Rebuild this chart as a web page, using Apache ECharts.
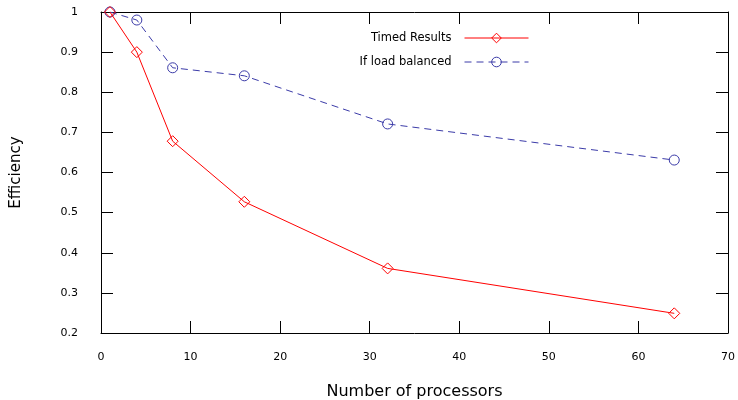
<!DOCTYPE html>
<html>
<head>
<meta charset="utf-8">
<script src="https://cdn.jsdelivr.net/npm/echarts@6/dist/echarts.min.js"></script>
<style>
  html, body { margin: 0; padding: 0; background: #fff; }
  #chart { width: 738px; height: 400px; }
</style>
</head>
<body>
<div id="chart"></div>
<script>
// processors count on x, efficiency on y
const processors = [1, 4, 8, 16, 32, 64];
const timedResults = [1.0, 0.9, 0.678, 0.527, 0.361, 0.249];
const loadBalanced = [1.0, 0.98, 0.861, 0.841, 0.721, 0.631];
const seriesNames = ['Timed Results', 'If load balanced'];

const RED = '#ff0000';
const BLUE = '#3b3ba8';
const FONT = 'DejaVu Sans';

const pairs = (xs, ys) => xs.map((x, i) => [x, ys[i]]);

const chart = echarts.init(document.getElementById('chart'));

// shared axis bits: black frame, inward ticks
const axisLine = { show: true, onZero: false, lineStyle: { color: '#000', width: 1 } };
const axisTick = { show: true, inside: true, length: 12, lineStyle: { color: '#000', width: 1 } };

const option = {
  animation: false,
  backgroundColor: '#fff',
  grid: { left: 101, right: 10, top: 12, bottom: 67, containLabel: false, outerBoundsMode: 'none' },
  legend: {
    orient: 'vertical',
    align: 'right',
    right: 204,
    top: 27,
    itemWidth: 64,
    itemHeight: 12,
    itemGap: 12,
    lineStyle: { width: 1 },
    itemStyle: { borderWidth: 1 },
    textStyle: { fontFamily: FONT, fontSize: 11.5, color: '#000', padding: [0, 8, 0, 0] },
    data: seriesNames
  },
  xAxis: [
    {
      type: 'value', min: 0, max: 70, interval: 10,
      name: 'Number of processors', nameLocation: 'middle', nameGap: 51,
      nameTextStyle: { fontFamily: FONT, fontSize: 16, color: '#000' },
      axisLine, axisTick,
      axisLabel: { margin: 19, fontFamily: FONT, fontSize: 11, color: '#000' },
      splitLine: { show: false }
    },
    {
      type: 'value', min: 0, max: 70, interval: 10, position: 'top',
      axisLine, axisTick, axisLabel: { show: false }, splitLine: { show: false }
    }
  ],
  yAxis: [
    {
      type: 'value', min: 0.2, max: 1, interval: 0.1,
      name: 'Efficiency', nameLocation: 'middle', nameGap: 77, nameRotate: 90,
      nameTextStyle: { fontFamily: FONT, fontSize: 15, color: '#000' },
      axisLine, axisTick,
      axisLabel: {
        margin: 23, fontFamily: FONT, fontSize: 11, color: '#000',
        formatter: v => String(Math.round(v * 10) / 10)
      },
      splitLine: { show: false }
    },
    {
      type: 'value', min: 0.2, max: 1, interval: 0.1, position: 'right',
      axisLine, axisTick, axisLabel: { show: false }, splitLine: { show: false }
    }
  ],
  series: [
    {
      name: seriesNames[0],
      type: 'line',
      data: pairs(processors, timedResults),
      symbol: 'diamond',
      symbolSize: 11,
      showAllSymbol: true,
      lineStyle: { color: RED, width: 1 },
      itemStyle: { color: 'rgba(0,0,0,0)', borderColor: RED, borderWidth: 1 },
      z: 3
    },
    {
      name: seriesNames[1],
      type: 'line',
      data: pairs(processors, loadBalanced),
      symbol: 'circle',
      symbolSize: 10,
      showAllSymbol: true,
      lineStyle: { color: BLUE, width: 1, type: [7, 5] },
      itemStyle: { color: 'rgba(0,0,0,0)', borderColor: BLUE, borderWidth: 1 },
      z: 2
    }
  ]
};

chart.setOption(option);
</script>
</body>
</html>
